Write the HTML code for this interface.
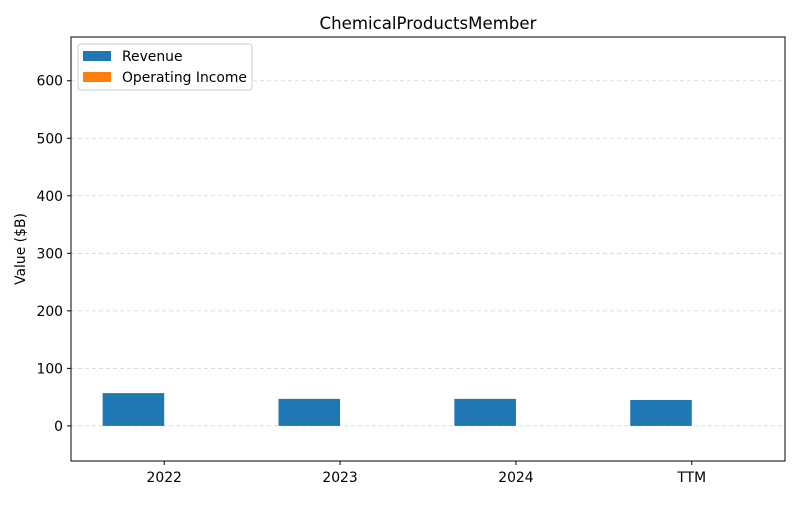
<!DOCTYPE html>
<html><head><meta charset="utf-8"><style>
body{margin:0;background:#fff;font-family:"Liberation Sans","DejaVu Sans",sans-serif}
svg text{font-family:"DejaVu Sans","Liberation Sans",sans-serif}
</style></head><body>
<svg id="chart" width="800" height="500" xmlns="http://www.w3.org/2000/svg">
<rect width="800" height="500" fill="#fff"/>
<g id="grid"></g><g id="bars"></g><g id="axes"></g>
</svg>
<script>
const categories=["2022","2023","2024","TTM"];
const revenue=[57,47,47,45];
const operatingIncome=[0,0,0,0];
const yTicks=[0,100,200,300,400,500,600];
const L=71,R=785,T=37,B=461,yMin=-61,yMax=676,xMin=-0.53,xMax=3.53,bw=0.35;
const FS=13.9;
const ns="http://www.w3.org/2000/svg";
const sx=v=>L+(v-xMin)/(xMax-xMin)*(R-L);
const sy=v=>B-(v-yMin)/(yMax-yMin)*(B-T);
function mk(tag,attrs,parent,text){const e=document.createElementNS(ns,tag);for(const k in attrs)e.setAttribute(k,attrs[k]);if(text!==undefined)e.textContent=text;document.getElementById(parent)?document.getElementById(parent).appendChild(e):parent.appendChild(e);return e;}
yTicks.forEach(t=>{
 const g=mk('line',{x1:L,x2:R,y1:sy(t),y2:sy(t),stroke:'#d3d3d3','stroke-dasharray':'4,3','stroke-width':0.8},'grid');
 
 
 const tk=mk('line',{x1:L-4,x2:L,y1:sy(t),y2:sy(t),stroke:'#000'},'axes');
 
 
 const lb=mk('text',{x:L-8,y:sy(t)+5,'text-anchor':'end','font-size':FS},'axes',String(t));
 
 
});
categories.forEach((c,i)=>{
 const r=mk('rect',{x:sx(i-bw),y:Math.min(sy(revenue[i]),sy(0)),width:sx(bw)-sx(0),height:Math.abs(sy(0)-sy(revenue[i])),fill:'#1f77b4'},'bars');
 
 
 const o=mk('rect',{x:sx(i),y:Math.min(sy(operatingIncome[i]),sy(0)),width:sx(bw)-sx(0),height:Math.abs(sy(0)-sy(operatingIncome[i])),fill:'#ff7f0e'},'bars');
 
 
 const tk=mk('line',{x1:sx(i),x2:sx(i),y1:B,y2:B+4,stroke:'#000'},'axes');
 
 
 const lb=mk('text',{x:sx(i),y:B+21,'text-anchor':'middle','font-size':FS},'axes',c);
 
 
});
const fr=mk('rect',{x:L,y:T,width:R-L,height:B-T,fill:'none',stroke:'#000','stroke-width':1},'axes');


const ti=mk('text',{x:(L+R)/2,y:29,'text-anchor':'middle','font-size':16.6},'axes','ChemicalProductsMember');


const yl=mk('text',{x:25,y:(T+B)/2,'text-anchor':'middle','font-size':FS,transform:`rotate(-90 25 ${(T+B)/2})`},'axes','Value ($B)');


const lg=mk('g',{},'axes');


mk('rect',{x:78,y:44,width:174,height:46,rx:3,fill:'#fff',stroke:'#ccc'},lg);
const e1=mk('g',{},lg);


mk('rect',{x:83,y:51,width:28,height:10,fill:'#1f77b4'},e1);
mk('text',{x:122,y:61,'font-size':FS},e1,'Revenue');
const e2=mk('g',{},lg);


mk('rect',{x:83,y:72,width:28,height:10,fill:'#ff7f0e'},e2);
mk('text',{x:122,y:82,'font-size':FS},e2,'Operating Income');
</script>
</body></html>
